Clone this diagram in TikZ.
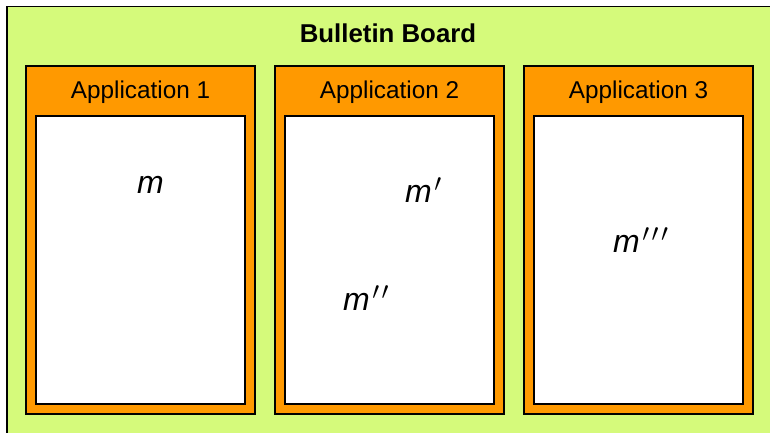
\documentclass[tikz,border=0pt]{standalone}
\usepackage{fontspec}
\setmainfont{Liberation Sans}
\usetikzlibrary{positioning}
\definecolor{boardgreen}{HTML}{D5FA7B}
\definecolor{apporange}{HTML}{FF9900}
\newcommand{\pr}{\kern2.5pt\raisebox{11pt}{\fontsize{27}{29}\selectfont$\prime$}}
\tikzset{board/.style={draw,fill=boardgreen,line width=1.5pt,minimum width=800pt,minimum height=460pt,anchor=north west,inner sep=0pt}}
\tikzset{app/.style={draw,fill=apporange,line width=1.5pt,minimum width=229pt,minimum height=348pt,inner sep=0pt}}
\tikzset{slot/.style={draw,fill=white,line width=1.5pt,minimum width=209pt,minimum height=288pt,inner sep=0pt}}
\tikzset{apptitle/.style={font=\fontsize{24.3}{28}\selectfont,inner sep=0pt,anchor=base}}
\tikzset{msg/.style={font=\fontsize{32}{36}\selectfont\itshape,inner sep=0pt,anchor=base west}}

\begin{document}
\begin{tikzpicture}[x=1pt,y=-1pt]
    \useasboundingbox (0,0) rectangle (770,433);
    \fill[white] (0,0) rectangle (770,433);
    \node[board] (board) at (6,6) {};
    \node[font=\fontsize{25.8}{30}\selectfont\bfseries,inner sep=0pt,anchor=base] (bb) at (388,43) {Bulletin Board};

    \node[app] (a1) at (140.5,240) {};
    \node[app] (a2) at (389.5,240) {};
    \node[app] (a3) at (638.5,240) {};

    \node[apptitle] (t1) at ([yshift=-33pt]a1.north) {Application 1};
    \node[apptitle] (t2) at ([yshift=-33pt]a2.north) {Application 2};
    \node[apptitle] (t3) at ([yshift=-33pt]a3.north) {Application 3};

    \node[slot,above=10pt of a1.south,anchor=south] (s1) {};
    \node[slot,above=10pt of a2.south,anchor=south] (s2) {};
    \node[slot,above=10pt of a3.south,anchor=south] (s3) {};

    \node[msg] (m1) at (137,193) {m};
    \node[msg] (m2) at (405,202) {m\pr};
    \node[msg] (m3) at (343,310) {m\pr\pr};
    \node[msg] (m4) at (613,252) {m\pr\pr\pr};
\end{tikzpicture}
\end{document}
